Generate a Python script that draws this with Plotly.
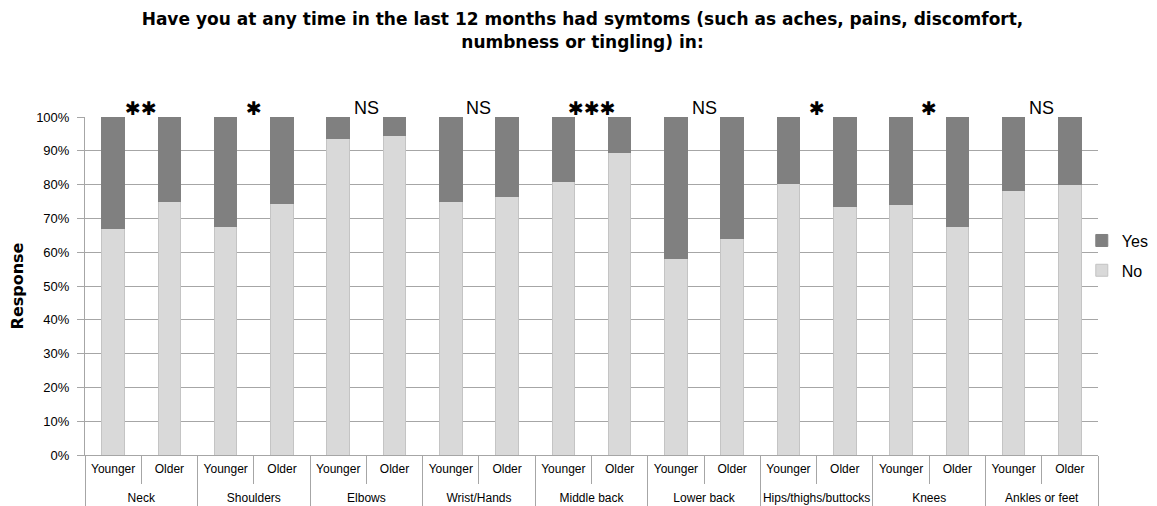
import plotly.graph_objects as go

groups = ["Neck", "Shoulders", "Elbows", "Wrist/Hands", "Middle back",
          "Lower back", "Hips/thighs/buttocks", "Knees", "Ankles or feet"]
subgroups = ["Younger", "Older"]
no_younger = [67, 67.5, 93.5, 75, 81, 58, 80.2, 74, 78.3]
no_older = [75, 74.5, 94.5, 76.5, 89.6, 64, 73.6, 67.5, 79.9]
significance = ["✱✱", "✱", "NS", "NS", "✱✱✱", "NS", "✱", "✱", "NS"]
y_ticks = [0, 10, 20, 30, 40, 50, 60, 70, 80, 90, 100]

# trailing blank line on the sub-level labels leaves room before the group row
sub_labels = [s + "<br> " for s in subgroups]

x_groups, x_subs, no_vals, yes_vals = [], [], [], []
for g, ny, no in zip(groups, no_younger, no_older):
    for s, v in zip(sub_labels, [ny, no]):
        x_groups.append(g)
        x_subs.append(s)
        no_vals.append(v)
        yes_vals.append(100 - v)

fig = go.Figure()
fig.add_trace(go.Bar(x=[x_groups, x_subs], y=no_vals, name="No", legendgroup="no",
                     legendrank=2,
                     marker=dict(color="#d9d9d9", line=dict(color="#c4c4c4", width=1))))
fig.add_trace(go.Bar(x=[x_groups, x_subs], y=yes_vals, name="Yes", legendgroup="yes",
                     legendrank=1,
                     marker=dict(color="#808080", line=dict(color="#808080", width=1))))

font_family = "Liberation Sans, Arial, sans-serif"
n = len(groups)
for i, txt in enumerate(significance):
    is_star = "✱" in txt
    fig.add_annotation(x=(i + 0.5) / n, y=1.0, xref="paper", yref="paper",
                       text=txt, showarrow=False, xanchor="center", yanchor="bottom",
                       yshift=-4 if is_star else -3,
                       font=dict(family="DejaVu Sans" if is_star else font_family,
                                 size=19 if is_star else 18, color="#000000"))

# page has an 8px body margin, so the figure is sized/offset to compensate
fig.update_layout(
    barmode="stack",
    bargap=0.6,
    width=1149, height=498,
    margin=dict(l=77, r=59, t=109, b=51, autoexpand=False),
    paper_bgcolor="white", plot_bgcolor="white",
    font=dict(family=font_family, size=13, color="#000000"),
    title=dict(text="<b>Have you at any time in the last 12 months had symtoms (such as aches, pains, discomfort,<br>numbness or tingling) in:</b>",
               x=0.5, xanchor="center", y=0.965, yanchor="top",
               font=dict(family="DejaVu Sans", size=17, color="#000000")),
    legend=dict(x=0.984, xanchor="left", y=0.59, yanchor="middle",
                traceorder="grouped", font=dict(size=16),
                bgcolor="rgba(0,0,0,0)",
                itemwidth=30, tracegroupgap=6),
    showlegend=True,
)
fig.update_yaxes(range=[0, 100], tickvals=y_ticks,
                 ticktext=[f"{v}%" for v in y_ticks],
                 showgrid=True, gridcolor="#a6a6a6", gridwidth=1,
                 showline=True, linecolor="#a6a6a6", linewidth=1,
                 ticks="outside", ticklen=7, tickcolor="#a6a6a6",
                 ticklabelstandoff=5,
                 tickfont=dict(size=13), zeroline=False,
                 title=dict(text="<b>Response</b>",
                            font=dict(family="DejaVu Sans", size=16), standoff=12))
fig.update_xaxes(type="multicategory", showline=True, linecolor="#a6a6a6", linewidth=1,
                 ticks="outside", tickson="boundaries", ticklen=28, tickcolor="#a6a6a6",
                 showdividers=True, dividercolor="#a6a6a6", dividerwidth=1,
                 ticklabelstandoff=3,
                 tickfont=dict(size=12), showgrid=False)

fig.write_html("out.html")
